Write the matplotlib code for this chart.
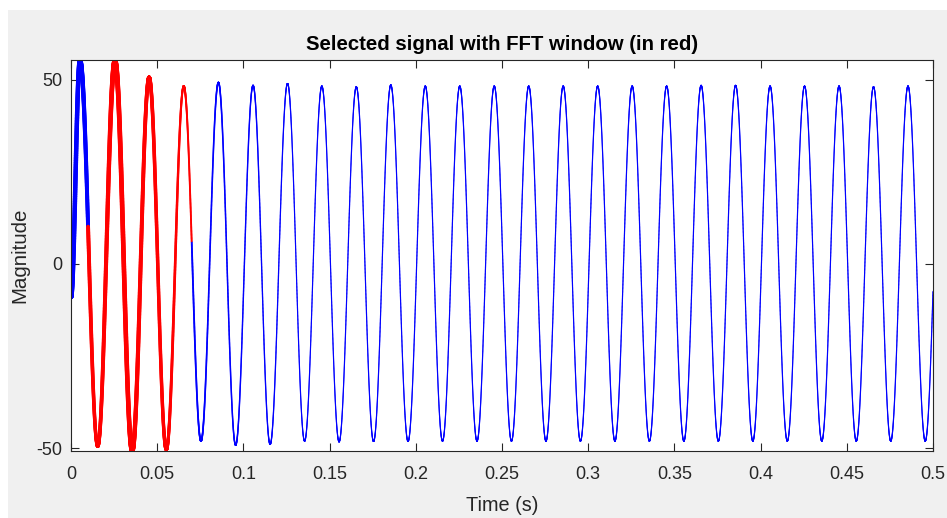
import matplotlib
matplotlib.use('Agg')
import numpy as np
import matplotlib.pyplot as plt
from matplotlib.collections import LineCollection
from matplotlib.patches import Rectangle

# ---------------- data ----------------
start_time = 0.0
start_value = -9.0
end_time = 0.5

peak_times = [0.0052, 0.0255, 0.0453, 0.0654, 0.0855, 0.1056, 0.1256, 0.1455,
              0.1655, 0.1855, 0.2055, 0.2255, 0.2455, 0.2655, 0.2855, 0.3055,
              0.3255, 0.3455, 0.3655, 0.3855, 0.4055, 0.4255, 0.4455, 0.4655,
              0.4855, 0.5055]
peak_values = [55.4, 55.2, 50.7, 48.3, 49.3, 48.5, 49.0, 48.3,
               48.1, 48.6, 48.3, 48.3, 48.3, 48.3, 48.3, 48.3,
               48.3, 48.3, 48.5, 48.5, 48.3, 48.3, 48.3, 48.1,
               48.3, 48.3]
trough_times = [0.0155, 0.0355, 0.0553, 0.0754, 0.0955, 0.1155, 0.1355, 0.1555,
                0.1755, 0.1955, 0.2155, 0.2355, 0.2555, 0.2755, 0.2955, 0.3155,
                0.3355, 0.3555, 0.3755, 0.3955, 0.4155, 0.4355, 0.4555, 0.4755,
                0.4955]
trough_values = [-49.5, -50.8, -50.4, -48.1, -49.2, -49.0, -48.1, -48.3,
                 -48.2, -48.2, -48.1, -48.1, -48.1, -48.1, -48.1, -48.1,
                 -48.1, -48.1, -48.1, -48.1, -48.1, -48.1, -48.1, -48.1,
                 -48.1]

window_start = 0.0099
window_end = 0.0700

x_ticks = [0, 0.05, 0.1, 0.15, 0.2, 0.25, 0.3, 0.35, 0.4, 0.45, 0.5]
x_tick_labels = ['0', '0.05', '0.1', '0.15', '0.2', '0.25', '0.3', '0.35',
                 '0.4', '0.45', '0.5']
y_ticks = [-50, 0, 50]
y_tick_labels = ['-50', '0', '50']

title_text = 'Selected signal with FFT window (in red)'
x_label = 'Time (s)'
y_label = 'Magnitude'

# ---------------- style ----------------
FONT = ['Liberation Sans', 'DejaVu Sans']
TXT = '#262626'
# line-width profile along time (the early transient looks heavier)
lw_t = [0.0, 0.005, 0.015, 0.025, 0.035, 0.045, 0.055, 0.065, 0.075, 0.10, 0.13]
lw_v = [3.2, 3.2, 2.4, 3.4, 3.2, 2.6, 2.4, 1.4, 1.2, 1.0, 0.85]

# ---------------- build the trace ----------------
ext_t = np.array([start_time] + peak_times + trough_times)
ext_v = np.array([start_value] + peak_values + trough_values)
order = np.argsort(ext_t)
ext_t, ext_v = ext_t[order], ext_v[order]

t = np.linspace(start_time, end_time, 20001)
idx = np.clip(np.searchsorted(ext_t, t, side='right') - 1, 0, len(ext_t) - 2)
ta, tb = ext_t[idx], ext_t[idx + 1]
va, vb = ext_v[idx], ext_v[idx + 1]
frac = (t - ta) / (tb - ta)
y = va + (vb - va) * (1 - np.cos(np.pi * frac)) / 2

plt.rcParams['font.family'] = FONT
fig = plt.figure(figsize=(9.47, 5.18), dpi=100, facecolor='white')
fig.patches.append(Rectangle((8 / 947, 0), 1, (518 - 10) / 518,
                             transform=fig.transFigure, facecolor='#f0f0f0',
                             edgecolor='none', zorder=-10))
ax = fig.add_axes([71 / 947, 67 / 518, 862 / 947, 391 / 518])
ax.set_facecolor('white')


def add_trace(mask, color):
    tt, yy = t[mask], y[mask]
    pts = np.column_stack([tt, yy]).reshape(-1, 1, 2)
    segs = np.concatenate([pts[:-1], pts[1:]], axis=1)
    mid = (tt[:-1] + tt[1:]) / 2
    widths = np.interp(mid, lw_t, lw_v)
    lc = LineCollection(segs, colors=color, linewidths=widths,
                        capstyle='round', joinstyle='round')
    ax.add_collection(lc)


add_trace(t <= window_start + 1e-9, (0, 0, 1))
add_trace(t >= window_end - 1e-9, (0, 0, 1))
add_trace((t >= window_start) & (t <= window_end), (1, 0, 0))

ax.set_xlim(start_time, end_time)
ax.set_ylim(y.min(), y.max())

ax.set_xticks(x_ticks)
ax.set_xticklabels(x_tick_labels)
ax.set_yticks(y_ticks)
ax.set_yticklabels(y_tick_labels)
ax.tick_params(direction='in', length=6, width=0.8, top=True, right=True,
               colors=TXT, labelsize=13)
ax.tick_params(axis='x', pad=11)
ax.tick_params(axis='y', pad=6)
for s in ax.spines.values():
    s.set_color(TXT)
    s.set_linewidth(0.8)

ax.set_title(title_text, fontsize=14.7, fontweight='bold', color='black', pad=7)
ax.set_xlabel(x_label, fontsize=14.3, color=TXT, labelpad=9)
ax.set_ylabel(y_label, fontsize=14.8, color=TXT, labelpad=5)

fig.savefig('out.png', dpi=100, facecolor=fig.get_facecolor())
